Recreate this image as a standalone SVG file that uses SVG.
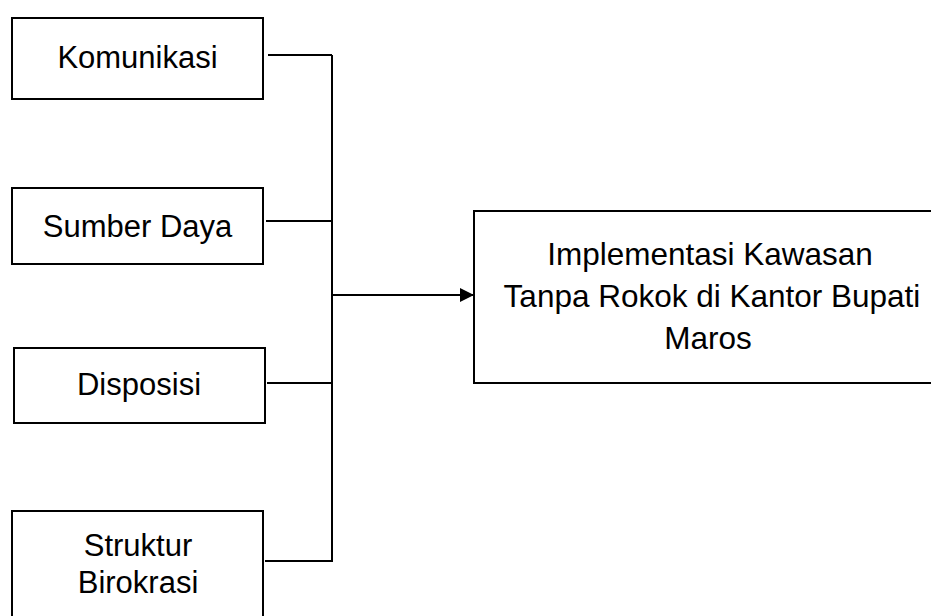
<svg xmlns="http://www.w3.org/2000/svg" width="931" height="616" viewBox="0 0 931 616">
<style>
.box{fill:#fff;stroke:#000;stroke-width:2}
.lbl{font-family:"Liberation Sans",Arial,sans-serif;font-size:31px;fill:#000;text-anchor:middle}
.big{font-size:31.5px}
.con{fill:none;stroke:#000;stroke-width:2}
</style>
<defs>
<marker id="arr" markerUnits="userSpaceOnUse" markerWidth="16" markerHeight="16" refX="14" refY="7" orient="auto">
<path d="M0,0 L14,7 L0,14 Z" fill="#000"/>
</marker>
</defs>
<rect width="931" height="616" fill="#fff"/>
<g id="n1">
<rect class="box" x="12" y="18" width="251" height="81"/>
<text class="lbl" x="137.5" y="68">Komunikasi</text>
</g>
<g id="n2">
<rect class="box" x="12" y="188" width="251" height="76"/>
<text class="lbl" x="137.5" y="237">Sumber Daya</text>
</g>
<g id="n3">
<rect class="box" x="14" y="348" width="251" height="75"/>
<text class="lbl" x="139" y="395">Disposisi</text>
</g>
<g id="n4">
<rect class="box" x="12" y="511" width="251" height="120"/>
<text class="lbl" x="138" y="556">Struktur</text>
<text class="lbl" x="138" y="593">Birokrasi</text>
</g>
<g id="n5">
<rect class="box" x="474" y="211" width="480" height="172"/>
<text class="lbl big" x="710" y="265">Implementasi Kawasan</text>
<text class="lbl big" x="712" y="307">Tanpa Rokok di Kantor Bupati</text>
<text class="lbl big" x="708" y="349">Maros</text>
</g>
<g id="connectors">
<path class="con" d="M268,55 H332"/>
<path class="con" d="M266,221 H332"/>
<path class="con" d="M267,383 H332"/>
<path class="con" d="M265,561 H332"/>
<path class="con" d="M332,55 V562"/>
<path class="con" d="M332,295 H474" marker-end="url(#arr)"/>
</g>
</svg>
